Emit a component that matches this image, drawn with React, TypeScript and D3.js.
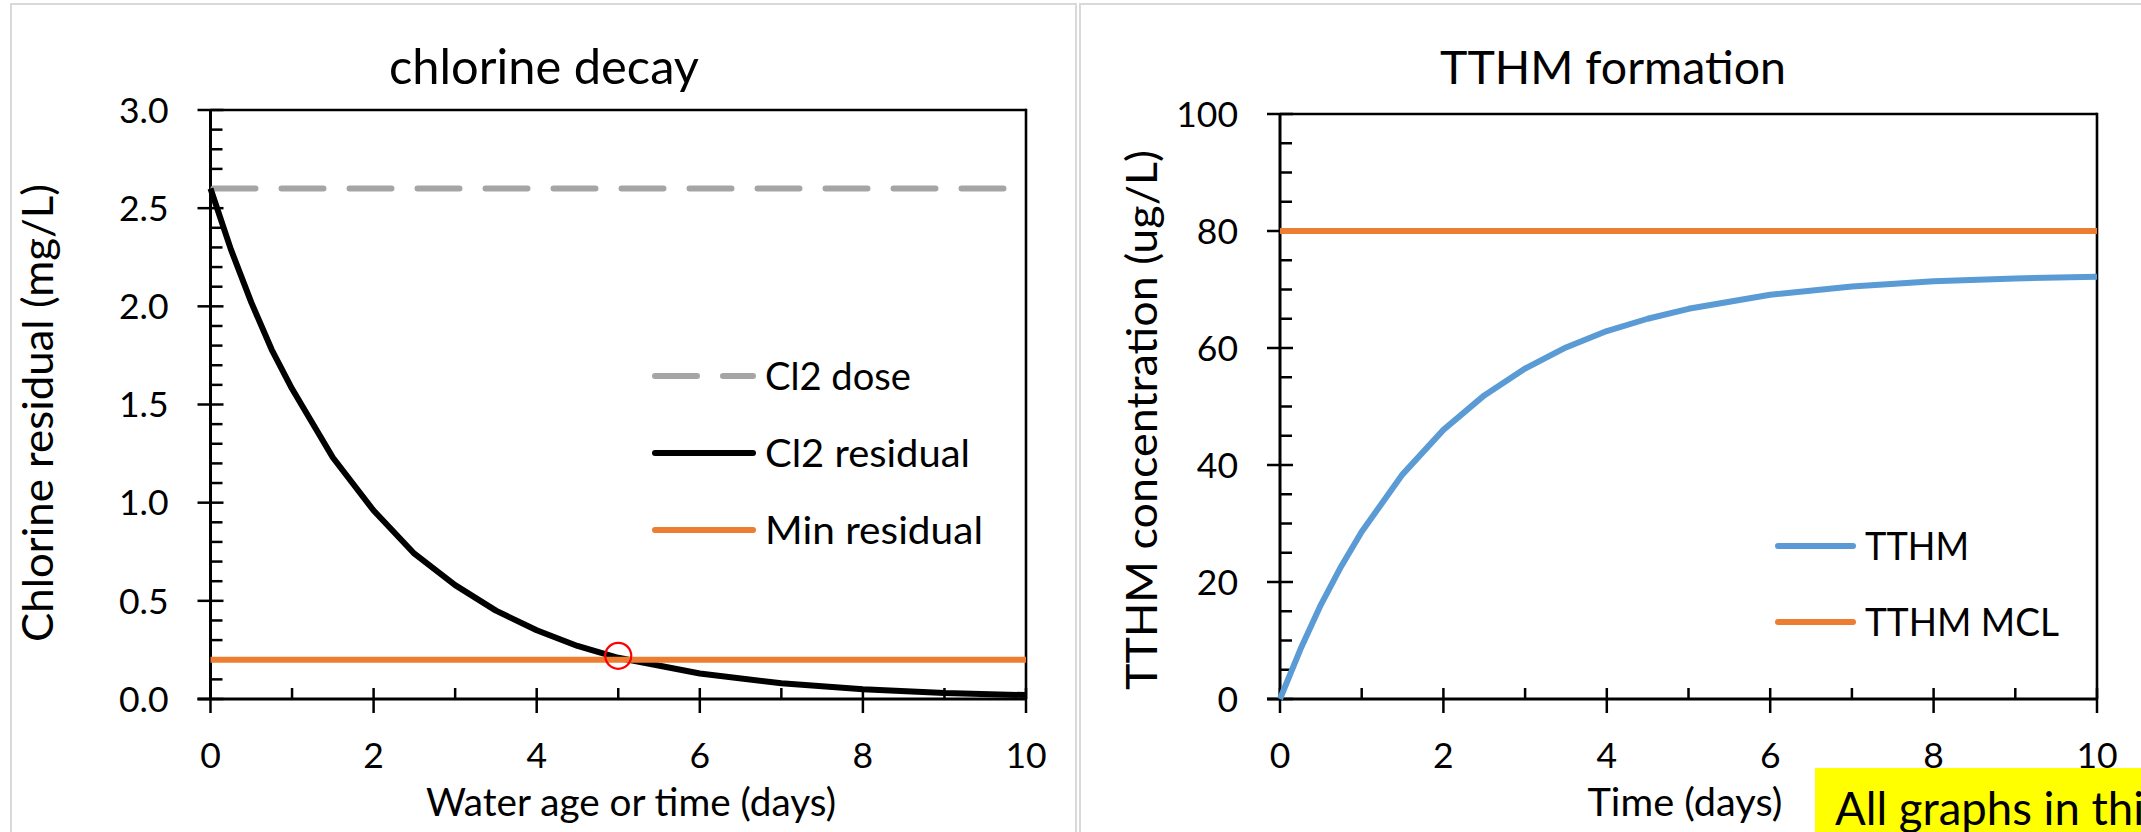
import React from "react";
import * as d3 from "d3";

// ---------- data ----------
const days = [0, 0.25, 0.5, 0.75, 1, 1.5, 2, 2.5, 3, 3.5, 4, 4.5, 5, 6, 7, 8, 9, 10];
const cl2Residual = [2.6, 2.29, 2.02, 1.78, 1.58, 1.23, 0.96, 0.74, 0.58, 0.45, 0.35, 0.27, 0.21, 0.13, 0.08, 0.05, 0.03, 0.02];
const tthm = [0, 8.5, 16.1, 22.7, 28.6, 38.4, 46.0, 51.9, 56.5, 60.1, 62.9, 65.0, 66.7, 69.1, 70.5, 71.4, 71.9, 72.2];
const lineDays = [0, 10];
const cl2Dose = [2.6, 2.6];
const minResidual = [0.2, 0.2];
const tthmMcl = [80, 80];
const markDay = [5];
const markValue = [0.22];
const xTicks = [0, 2, 4, 6, 8, 10];
const xMinor = [1, 3, 5, 7, 9];
const clTicks = [0, 0.5, 1.0, 1.5, 2.0, 2.5, 3.0];
const clMinor = d3.range(0, 31).filter((i) => i % 5 !== 0).map((i) => i / 10);
const thTicks = [0, 20, 40, 60, 80, 100];
const thMinor = d3.range(0, 21).filter((i) => i % 4 !== 0).map((i) => i * 5);

const FONT = "Lato, 'Noto Sans', sans-serif";

type Series = { xs: number[]; ys: number[]; color: string; width: number; dash?: string; dashOffset?: number };

function Axes({ x, y, yTicks, yMinor, yFmt }: any) {
  const [x0, x1] = x.range();
  const [y0, y1] = y.range(); // y0 bottom
  return (
    <g>
      <line x1={x0} x2={x1} y1={y1} y2={y1} stroke="#000" strokeWidth={2.6} />
      <line x1={x1} x2={x1} y1={y1 - 1.3} y2={y0} stroke="#000" strokeWidth={2.6} />
      <line x1={x0} x2={x0} y1={y1} y2={y0} stroke="#000" strokeWidth={3} />
      <line x1={x0 - 13} x2={x1} y1={y0} y2={y0} stroke="#000" strokeWidth={3} />
      {yTicks.map((t: number) => (
        <g key={"yt" + t}>
          <line x1={x0 - 13} x2={x0 + 13} y1={y(t)} y2={y(t)} stroke="#000" strokeWidth={2.5} />
          <text x={x0 - 42} y={y(t)} dy="0.36em" textAnchor="end" fontSize={35.5} fontFamily={FONT}>
            {yFmt(t)}
          </text>
        </g>
      ))}
      {yMinor.map((t: number) => (
        <line key={"ym" + t} x1={x0} x2={x0 + 12} y1={y(t)} y2={y(t)} stroke="#000" strokeWidth={2.5} />
      ))}
      {xTicks.map((t) => (
        <g key={"xt" + t}>
          <line x1={x(t)} x2={x(t)} y1={y0 - 11} y2={y0 + 14} stroke="#000" strokeWidth={2.5} />
          <text x={x(t)} y={768} textAnchor="middle" fontSize={35.5} fontFamily={FONT}>
            {t}
          </text>
        </g>
      ))}
      {xMinor.map((t) => (
        <line key={"xm" + t} x1={x(t)} x2={x(t)} y1={y0 - 11} y2={y0} stroke="#000" strokeWidth={2.5} />
      ))}
    </g>
  );
}

function SeriesPath({ x, y, s }: { x: any; y: any; s: Series }) {
  const gen = d3
    .line<number>()
    .x((_, i) => x(s.xs[i]))
    .y((d) => y(d))
    .curve(d3.curveLinear);
  return (
    <path
      d={gen(s.ys) || ""}
      fill="none"
      stroke={s.color}
      strokeWidth={s.width}
      strokeDasharray={s.dash}
      strokeDashoffset={s.dashOffset}
      strokeLinecap={s.dash ? "round" : "butt"}
      strokeLinejoin="round"
    />
  );
}

function LegendItem({ x1, x2, y, color, width, dash, label, len }: any) {
  return (
    <g>
      <line x1={x1 + 3} x2={x2 - 3} y1={y} y2={y} stroke={color} strokeWidth={width} strokeLinecap="round" strokeDasharray={dash} />
      <text x={x2 + 9} y={y} dy="0.36em" fontSize={39.5} fontFamily={FONT} textLength={len} lengthAdjust="spacingAndGlyphs">
        {label}
      </text>
    </g>
  );
}

export default function App() {
  const xL = d3.scaleLinear().domain([0, 10]).range([210.5, 1026]);
  const yL = d3.scaleLinear().domain([0, 3]).range([699, 110]);
  const xR = d3.scaleLinear().domain([0, 10]).range([1280, 2097]);
  const yR = d3.scaleLinear().domain([0, 100]).range([699, 114]);

  const gray = "#A5A5A5";
  const orange = "#ED7D31";
  const blue = "#5B9BD5";

  return (
    <svg
      width={2141}
      height={832}
      style={{ position: "absolute", left: 0, top: 0, background: "#fff" }}
      fontFamily={FONT}
    >
      <rect x={0} y={0} width={2141} height={832} fill="#fff" />
      <rect x={11} y={4} width={1065} height={900} fill="#fff" stroke="#d9d9d9" strokeWidth={2} />
      <rect x={1080} y={4} width={1100} height={900} fill="#fff" stroke="#d9d9d9" strokeWidth={2} />

      {/* ---------- chlorine decay ---------- */}
      <text x={544} y={84} textAnchor="middle" fontSize={48} textLength={310} lengthAdjust="spacingAndGlyphs">
        chlorine decay
      </text>
      <Axes x={xL} y={yL} yTicks={clTicks} yMinor={clMinor} yFmt={(v: number) => v.toFixed(1)} />
      <SeriesPath x={xL} y={yL} s={{ xs: lineDays, ys: cl2Dose, color: gray, width: 6, dash: "42 26", dashOffset: 65 }} />
      <SeriesPath x={xL} y={yL} s={{ xs: days, ys: cl2Residual, color: "#000", width: 6 }} />
      <SeriesPath x={xL} y={yL} s={{ xs: lineDays, ys: minResidual, color: orange, width: 6 }} />
      {markDay.map((d, i) => (
        <circle key={i} cx={xL(d)} cy={yL(markValue[i])} r={13} fill="none" stroke="#FF0000" strokeWidth={2.2} />
      ))}
      <LegendItem x1={652} x2={756} y={376} color={gray} width={6} dash="42 26" label="Cl2 dose" len={146} />
      <LegendItem x1={652} x2={756} y={453} color="#000" width={6} label="Cl2 residual" len={205} />
      <LegendItem x1={652} x2={756} y={530} color={orange} width={6} label="Min residual" len={218} />
      <text x={631} y={816} textAnchor="middle" fontSize={39} textLength={410} lengthAdjust="spacingAndGlyphs">
        Water age or time (days)
      </text>
      <text transform="translate(53,413) rotate(-90)" textAnchor="middle" fontSize={42} textLength={458} lengthAdjust="spacingAndGlyphs">
        Chlorine residual (mg/L)
      </text>

      {/* ---------- TTHM formation ---------- */}
      <text x={1613} y={84} textAnchor="middle" fontSize={46} textLength={346} lengthAdjust="spacingAndGlyphs">
        TTHM formation
      </text>
      <Axes x={xR} y={yR} yTicks={thTicks} yMinor={thMinor} yFmt={(v: number) => String(v)} />
      <SeriesPath x={xR} y={yR} s={{ xs: days, ys: tthm, color: blue, width: 6 }} />
      <SeriesPath x={xR} y={yR} s={{ xs: lineDays, ys: tthmMcl, color: orange, width: 6 }} />
      <LegendItem x1={1775} x2={1856} y={546} color={blue} width={6} label="TTHM" len={104} />
      <LegendItem x1={1775} x2={1856} y={622} color={orange} width={6} label="TTHM MCL" len={194} />
      <text x={1685} y={816} textAnchor="middle" fontSize={39} textLength={195} lengthAdjust="spacingAndGlyphs">
        Time (days)
      </text>
      <text transform="translate(1157,420) rotate(-90)" textAnchor="middle" fontSize={43} textLength={540} lengthAdjust="spacingAndGlyphs">
        TTHM concentration (ug/L)
      </text>

      {/* yellow note */}
      <rect x={1815} y={768} width={400} height={80} fill="#FFFF00" />
      <text x={1835} y={825} fontSize={45.5}>
        All graphs in this
      </text>
    </svg>
  );
}
